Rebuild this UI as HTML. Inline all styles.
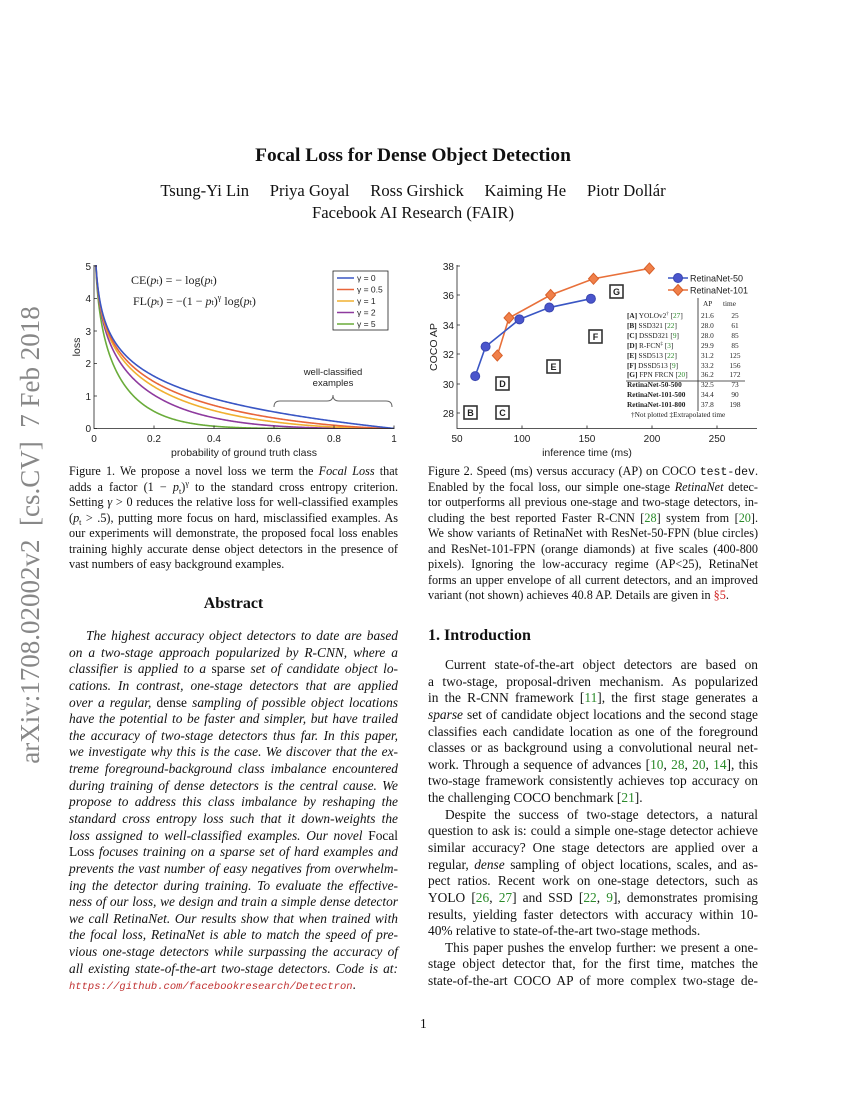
<!DOCTYPE html>
<html><head><meta charset="utf-8"><style>
body{margin:0;width:850px;height:1100px;background:#fff;position:relative;overflow:hidden;font-family:"Liberation Serif",serif;color:#111}
.l{position:absolute;white-space:nowrap;font-size:13.4px;line-height:16px}
.j{text-align:justify;text-align-last:justify}
.c{font-size:12.2px}
i{font-style:italic}
.g{color:#2a8a2a}.r{color:#d02020}
.tt{font-family:"Liberation Mono",monospace;font-size:11.5px}
.sb{font-size:8px;position:relative;top:3px}
.sp{font-size:8px;position:relative;top:-5px}
svg text{font-family:"Liberation Sans",sans-serif}
svg text.sf, svg .sf text{font-family:"Liberation Serif",serif}
</style></head><body>
<div class="l" style="left:-210px;top:520px;width:480px;text-align:center;transform:rotate(-90deg);font-size:27px;line-height:30px;color:#888">arXiv:1708.02002v2&nbsp; [cs.CV]&nbsp; 7 Feb 2018</div>

<div class="l" style="left:0;width:826px;top:145px;text-align:center;font-size:19.4px;font-weight:bold;line-height:22px">Focal Loss for Dense Object Detection</div>
<div class="l" style="left:0;width:826px;top:181px;text-align:center;font-size:16.6px;line-height:20px">Tsung-Yi Lin&nbsp;&nbsp;&nbsp;&nbsp; Priya Goyal&nbsp;&nbsp;&nbsp;&nbsp; Ross Girshick&nbsp;&nbsp;&nbsp;&nbsp; Kaiming He&nbsp;&nbsp;&nbsp;&nbsp; Piotr Dollár</div>
<div class="l" style="left:0;width:826px;top:203px;text-align:center;font-size:16.6px;line-height:20px">Facebook AI Research (FAIR)</div>

<svg id="s" width="850" height="460" style="position:absolute;left:0;top:0" xmlns="http://www.w3.org/2000/svg">
<defs><clipPath id="cp"><rect x="94" y="265" width="301" height="164"/></clipPath></defs>
<g id="lc" clip-path="url(#cp)" fill="none" stroke-width="1.6"></g>
<g stroke="#222" stroke-width="0.8" fill="none">
<path d="M94,265 V428.5 H394.5"/>
<path d="M94,428.5 h3 M94,396 h3 M94,363.5 h3 M94,331 h3 M94,298.5 h3 M94,266 h3"/>
<path d="M154,428.5 v-3 M214,428.5 v-3 M274,428.5 v-3 M334,428.5 v-3 M394,428.5 v-3"/>
</g>
<g font-size="10" fill="#222" text-anchor="end">
<text x="91" y="432">0</text><text x="91" y="400">1</text><text x="91" y="367">2</text><text x="91" y="335">3</text><text x="91" y="302">4</text><text x="91" y="270">5</text>
</g>
<g font-size="10" fill="#222" text-anchor="middle">
<text x="94" y="442">0</text><text x="154" y="442">0.2</text><text x="214" y="442">0.4</text><text x="274" y="442">0.6</text><text x="334" y="442">0.8</text><text x="394" y="442">1</text>
<text x="244" y="456" font-size="10.5">probability of ground truth class</text>
<text x="80" y="347" font-size="10.5" transform="rotate(-90 80 347)">loss</text>
<text x="333" y="375" font-size="9.5">well-classified</text>
<text x="333" y="386" font-size="9.5">examples</text>
</g>
<path d="M274,407 q0,-6 6,-6 h47 q6,0 6,-6 q0,6 6,6 h47 q6,0 6,6" stroke="#666" fill="none" stroke-width="1"/>
<text class="sf" x="131" y="284" font-size="12" fill="#222">CE(<tspan font-style="italic">p</tspan><tspan font-size="8">t</tspan>) = − log(<tspan font-style="italic">p</tspan><tspan font-size="8">t</tspan>)</text>
<text class="sf" x="133" y="305" font-size="12" fill="#222">FL(<tspan font-style="italic">p</tspan><tspan font-size="8">t</tspan>) = −(1 − <tspan font-style="italic">p</tspan><tspan font-size="8">t</tspan>)<tspan font-size="8" dy="-5">γ</tspan><tspan dy="5"> log(</tspan><tspan font-style="italic">p</tspan><tspan font-size="8">t</tspan>)</text>
<rect x="333" y="271" width="55" height="59" fill="#fff" stroke="#222" stroke-width="0.8"/>
<g stroke-width="1.6">
<path d="M337,278 h17" stroke="#3a56c4"/><path d="M337,289.5 h17" stroke="#e8653a"/><path d="M337,301 h17" stroke="#f0b030"/><path d="M337,312.5 h17" stroke="#8e3a9e"/><path d="M337,324 h17" stroke="#6aac3a"/>
</g>
<g font-size="8.5" fill="#222">
<text x="357" y="281">γ = 0</text><text x="357" y="292.5">γ = 0.5</text><text x="357" y="304">γ = 1</text><text x="357" y="315.5">γ = 2</text><text x="357" y="327">γ = 5</text>
</g>

<g stroke="#222" stroke-width="0.8" fill="none">
<path d="M457,265 V428.5 H757"/>
<path d="M457,413 h3 M457,384 h3 M457,354 h3 M457,325 h3 M457,295 h3 M457,266 h3"/>
<path d="M522,428.5 v-3 M587,428.5 v-3 M652,428.5 v-3 M717,428.5 v-3"/>
</g>
<g font-size="10" fill="#222" text-anchor="end">
<text x="454" y="417">28</text><text x="454" y="388">30</text><text x="454" y="358">32</text><text x="454" y="329">34</text><text x="454" y="299">36</text><text x="454" y="270">38</text>
</g>
<g font-size="10" fill="#222" text-anchor="middle">
<text x="457" y="442">50</text><text x="522" y="442">100</text><text x="587" y="442">150</text><text x="652" y="442">200</text><text x="717" y="442">250</text>
<text x="587" y="456" font-size="10.5">inference time (ms)</text>
<text x="437" y="347" font-size="10.5" transform="rotate(-90 437 347)">COCO AP</text>
</g>
<g id="rc"></g>
<g font-size="9" font-weight="bold" text-anchor="middle" fill="#222">
<g stroke="#333" stroke-width="1.6" fill="none">
<rect x="464" y="406" width="13" height="13"/><rect x="496" y="406" width="13" height="13"/><rect x="496" y="377" width="13" height="13"/><rect x="547" y="360" width="13" height="13"/><rect x="589" y="330" width="13" height="13"/><rect x="610" y="285" width="13" height="13"/>
</g>
<text x="470.5" y="416">B</text><text x="502.5" y="416">C</text><text x="502.5" y="387">D</text><text x="553.5" y="370">E</text><text x="595.5" y="340">F</text><text x="616.5" y="295">G</text>
</g>
<path d="M668,278 h20" stroke="#3a56c4" stroke-width="1.4"/>
<circle cx="678" cy="278" r="4.5" fill="#4a55cc" stroke="#3a46b0"/>
<path d="M668,290 h20" stroke="#e8703a" stroke-width="1.4"/>
<path d="M678,284.5 l5,5.5 l-5,5.5 l-5,-5.5z" fill="#f0804a" stroke="#d8602a"/>
<g font-size="9" fill="#222"><text x="690" y="281.5">RetinaNet-50</text><text x="690" y="293.5">RetinaNet-101</text></g>
<path d="M698,298 V411 M626,381 H745" stroke="#222" stroke-width="0.8"/>
<g class="sf" font-size="7.3" fill="#222">
<text x="703" y="306">AP</text><text x="723" y="306">time</text>
<g id="tb"></g>
<text x="631" y="417">†Not plotted  ‡Extrapolated time</text>
</g>
</svg>

<div class="l c j" style="left:69px;width:329px;top:463px">Figure 1. We propose a novel loss we term the <i>Focal Loss</i> that</div>
<div class="l c j" style="left:69px;width:329px;top:478.5px">adds a factor (1 − <i>p</i><span class="sb">t</span>)<span class="sp">γ</span> to the standard cross entropy criterion.</div>
<div class="l c j" style="left:69px;width:329px;top:494px">Setting <i>γ</i> &gt; 0 reduces the relative loss for well-classified examples</div>
<div class="l c j" style="left:69px;width:329px;top:509.5px">(<i>p</i><span class="sb">t</span> &gt; .5), putting more focus on hard, misclassified examples. As</div>
<div class="l c j" style="left:69px;width:329px;top:525px">our experiments will demonstrate, the proposed focal loss enables</div>
<div class="l c j" style="left:69px;width:329px;top:540.5px">training highly accurate dense object detectors in the presence of</div>
<div class="l c" style="left:69px;top:556px">vast numbers of easy background examples.</div>

<div class="l c j" style="left:428px;width:330px;top:463px">Figure 2. Speed (ms) versus accuracy (AP) on COCO <span class="tt">test-dev</span>.</div>
<div class="l c j" style="left:428px;width:330px;top:478.5px">Enabled by the focal loss, our simple one-stage <i>RetinaNet</i> detec-</div>
<div class="l c j" style="left:428px;width:330px;top:494px">tor outperforms all previous one-stage and two-stage detectors, in-</div>
<div class="l c j" style="left:428px;width:330px;top:509.5px">cluding the best reported Faster R-CNN [<span class="g">28</span>] system from [<span class="g">20</span>].</div>
<div class="l c j" style="left:428px;width:330px;top:525px">We show variants of RetinaNet with ResNet-50-FPN (blue circles)</div>
<div class="l c j" style="left:428px;width:330px;top:540.5px">and ResNet-101-FPN (orange diamonds) at five scales (400-800</div>
<div class="l c j" style="left:428px;width:330px;top:556px">pixels). Ignoring the low-accuracy regime (AP&lt;25), RetinaNet</div>
<div class="l c j" style="left:428px;width:330px;top:571.5px">forms an upper envelope of all current detectors, and an improved</div>
<div class="l c" style="left:428px;top:587px">variant (not shown) achieves 40.8 AP. Details are given in <span class="r">§5</span>.</div>

<div class="l" style="left:69px;width:329px;top:595px;text-align:center;font-weight:bold;font-size:16px;line-height:18px">Abstract</div>
<div class="l" style="left:428px;top:627px;font-weight:bold;font-size:16px;line-height:18px">1. Introduction</div>

<div id="ab"></div>
<div class="l" style="left:420px;top:1016px">1</div>

<script>
var ns="http://www.w3.org/2000/svg";
function P(d,st,fill,sw){var p=document.createElementNS(ns,"path");p.setAttribute("d",d);p.setAttribute("stroke",st);p.setAttribute("fill",fill||"none");if(sw)p.setAttribute("stroke-width",sw);return p;}
var cols=["#3a56c4","#e8653a","#f0b030","#8e3a9e","#6aac3a"],gs=[0,0.5,1,2,5],lc=document.getElementById("lc");
for(var k=4;k>=0;k--){var d="";for(var i=0;i<=600;i++){var p=0.004+0.996*Math.pow(i/600,1.6);var y=-Math.pow(1-p,gs[k])*Math.log(p);d+=(i?"L":"M")+(94+p*300).toFixed(2)+","+(428.5-y*32.5).toFixed(2);}lc.appendChild(P(d,cols[k]));}
var rc=document.getElementById("rc");function X(t){return 457+(t-50)*1.3}function Y(a){return 413-(a-28)*14.75}
var b=[[64,30.5],[72,32.5],[98,34.35],[121,35.15],[153,35.75]],o=[[81,31.9],[90,34.45],[122,36.0],[155,37.1],[198,37.8]];
function line(a,c){var d="";a.forEach(function(q,i){d+=(i?"L":"M")+X(q[0])+","+Y(q[1]);});rc.appendChild(P(d,c,"none","1.6"));}
line(o,"#e8703a");line(b,"#3a56c4");
b.forEach(function(q){var c=document.createElementNS(ns,"circle");c.setAttribute("cx",X(q[0]));c.setAttribute("cy",Y(q[1]));c.setAttribute("r",4.5);c.setAttribute("fill","#4a55cc");c.setAttribute("stroke","#3a46b0");rc.appendChild(c);});
o.forEach(function(q){var x=X(q[0]),y=Y(q[1]);rc.appendChild(P("M"+x+","+(y-5.5)+"l5,5.5l-5,5.5l-5,-5.5z","#d8602a","#f0804a"));});
var rows=[["<tspan font-weight='bold'>[A]</tspan> YOLOv2<tspan font-size='5' dy='-3'>†</tspan><tspan dy='3'> [</tspan><tspan fill='#2a8a2a'>27</tspan>]","21.6","25"],["<tspan font-weight='bold'>[B]</tspan> SSD321 [<tspan fill='#2a8a2a'>22</tspan>]","28.0","61"],["<tspan font-weight='bold'>[C]</tspan> DSSD321 [<tspan fill='#2a8a2a'>9</tspan>]","28.0","85"],["<tspan font-weight='bold'>[D]</tspan> R-FCN<tspan font-size='5' dy='-3'>‡</tspan><tspan dy='3'> [</tspan><tspan fill='#2a8a2a'>3</tspan>]","29.9","85"],["<tspan font-weight='bold'>[E]</tspan> SSD513 [<tspan fill='#2a8a2a'>22</tspan>]","31.2","125"],["<tspan font-weight='bold'>[F]</tspan> DSSD513 [<tspan fill='#2a8a2a'>9</tspan>]","33.2","156"],["<tspan font-weight='bold'>[G]</tspan> FPN FRCN [<tspan fill='#2a8a2a'>20</tspan>]","36.2","172"],["<tspan font-weight='bold'>RetinaNet-50-500</tspan>","32.5","73"],["<tspan font-weight='bold'>RetinaNet-101-500</tspan>","34.4","90"],["<tspan font-weight='bold'>RetinaNet-101-800</tspan>","37.8","198"]];
var ys=[318,328,338,348,358,368,377,387,397,407],h="";
rows.forEach(function(r,i){h+="<text class='sf' x='627' y='"+ys[i]+"'>"+r[0]+"</text><text class='sf' x='701' y='"+ys[i]+"'>"+r[1]+"</text><text class='sf' x='735' y='"+ys[i]+"' text-anchor='middle'>"+r[2]+"</text>";});
document.getElementById("tb").innerHTML=h;
var A=[
["<i>The highest accuracy object detectors to date are based</i>",1,1],
["<i>on a two-stage approach popularized by R-CNN, where a</i>",1],
["<i>classifier is applied to a</i> sparse <i>set of candidate object lo-</i>",1],
["<i>cations. In contrast, one-stage detectors that are applied</i>",1],
["<i>over a regular,</i> dense <i>sampling of possible object locations</i>",1],
["<i>have the potential to be faster and simpler, but have trailed</i>",1],
["<i>the accuracy of two-stage detectors thus far. In this paper,</i>",1],
["<i>we investigate why this is the case. We discover that the ex-</i>",1],
["<i>treme foreground-background class imbalance encountered</i>",1],
["<i>during training of dense detectors is the central cause. We</i>",1],
["<i>propose to address this class imbalance by reshaping the</i>",1],
["<i>standard cross entropy loss such that it down-weights the</i>",1],
["<i>loss assigned to well-classified examples. Our novel</i> Focal",1],
["Loss <i>focuses training on a sparse set of hard examples and</i>",1],
["<i>prevents the vast number of easy negatives from overwhelm-</i>",1],
["<i>ing the detector during training. To evaluate the effective-</i>",1],
["<i>ness of our loss, we design and train a simple dense detector</i>",1],
["<i>we call RetinaNet. Our results show that when trained with</i>",1],
["<i>the focal loss, RetinaNet is able to match the speed of pre-</i>",1],
["<i>vious one-stage detectors while surpassing the accuracy of</i>",1],
["<i>all existing state-of-the-art two-stage detectors. Code is at:</i>",1],
["<span class='tt' style='color:#c03030;font-style:italic;font-size:10.5px'>https://github.com/facebookresearch/Detectron</span>.",0]];
var B=[
["Current state-of-the-art object detectors are based on",1,1],
["a two-stage, proposal-driven mechanism. As popularized",1],
["in the R-CNN framework [<span class=g>11</span>], the first stage generates a",1],
["<i>sparse</i> set of candidate object locations and the second stage",1],
["classifies each candidate location as one of the foreground",1],
["classes or as background using a convolutional neural net-",1],
["work. Through a sequence of advances [<span class=g>10</span>, <span class=g>28</span>, <span class=g>20</span>, <span class=g>14</span>], this",1],
["two-stage framework consistently achieves top accuracy on",1],
["the challenging COCO benchmark [<span class=g>21</span>].",0],
["Despite the success of two-stage detectors, a natural",1,1],
["question to ask is: could a simple one-stage detector achieve",1],
["similar accuracy? One stage detectors are applied over a",1],
["regular, <i>dense</i> sampling of object locations, scales, and as-",1],
["pect ratios. Recent work on one-stage detectors, such as",1],
["YOLO [<span class=g>26</span>, <span class=g>27</span>] and SSD [<span class=g>22</span>, <span class=g>9</span>], demonstrates promising",1],
["results, yielding faster detectors with accuracy within 10-",1],
["40% relative to state-of-the-art two-stage methods.",0],
["This paper pushes the envelop further: we present a one-",1,1],
["stage object detector that, for the first time, matches the",1],
["state-of-the-art COCO AP of more complex two-stage de-",1]];
var out="";
A.forEach(function(r,i){var ind=r[2]?17:0;out+="<div class='l"+(r[1]?" j":"")+"' style='left:"+(69+ind)+"px;width:"+(329-ind)+"px;top:"+(628+i*16.63).toFixed(1)+"px'>"+r[0]+"</div>";});
B.forEach(function(r,i){var ind=r[2]?17:0;out+="<div class='l"+(r[1]?" j":"")+"' style='left:"+(428+ind)+"px;width:"+(330-ind)+"px;top:"+(657+i*16.63).toFixed(1)+"px'>"+r[0]+"</div>";});
document.getElementById("ab").innerHTML=out;
</script>
</body></html>
